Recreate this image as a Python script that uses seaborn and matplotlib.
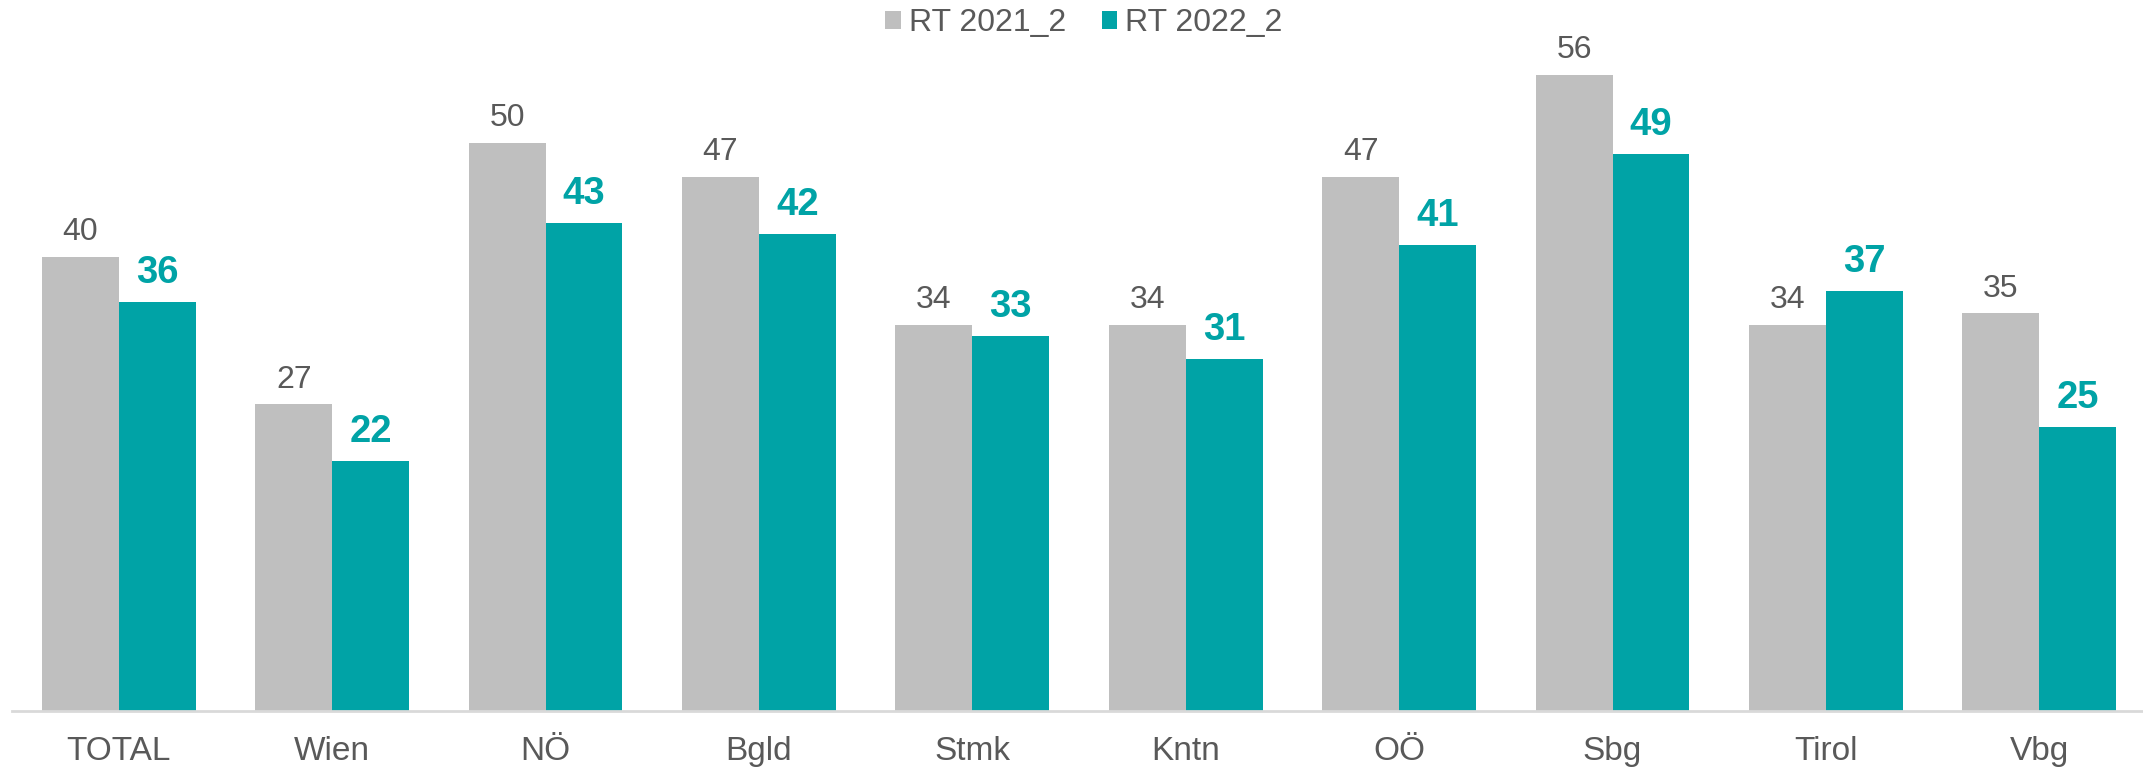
import matplotlib
matplotlib.use("Agg")
import matplotlib.pyplot as plt
import seaborn as sns
import pandas as pd
from matplotlib.patches import Patch

categories = ["TOTAL", "Wien", "NÖ", "Bgld", "Stmk", "Kntn", "OÖ", "Sbg", "Tirol", "Vbg"]
series_names = ["RT 2021_2", "RT 2022_2"]
rt2021 = [40, 27, 50, 47, 34, 34, 47, 56, 34, 35]
rt2022 = [36, 22, 43, 42, 33, 31, 41, 49, 37, 25]

GRAY = "#BFBFBF"
TEAL = "#00A3A6"
TXT = "#595959"

df = pd.DataFrame({
    "cat": categories * 2,
    "series": [series_names[0]] * len(categories) + [series_names[1]] * len(categories),
    "value": rt2021 + rt2022,
})

sns.set_theme(style="white")
plt.rcParams["font.family"] = ["Liberation Sans", "DejaVu Sans"]

fig = plt.figure(figsize=(21.43, 7.70), dpi=100)
ax = fig.add_axes([12 / 2143, 59 / 770, 2134 / 2143, 711 / 770])

sns.barplot(data=df, x="cat", y="value", hue="series", order=categories,
            hue_order=series_names, palette=[GRAY, TEAL], width=0.72,
            saturation=1, legend=False, ax=ax, errorbar=None, linewidth=0)

ax.set_ylim(0, 62.6)
ax.set_xlim(-0.5, len(categories) - 0.5)
ax.set_xlabel("")
ax.set_ylabel("")
ax.set_yticks([])
for s in ["top", "right", "left"]:
    ax.spines[s].set_visible(False)
ax.spines["bottom"].set_color("#D9D9D9")
ax.spines["bottom"].set_linewidth(2)
ax.tick_params(axis="x", length=0, pad=18, labelsize=24, labelcolor=TXT)

c0, c1 = ax.containers[0], ax.containers[1]
ax.bar_label(c0, labels=[str(v) for v in rt2021], padding=7, fontsize=23, color=TXT)
ax.bar_label(c1, labels=[str(v) for v in rt2022], padding=8, fontsize=27.5,
             color=TEAL, fontweight="bold")

handles = [Patch(facecolor=GRAY, edgecolor="none"), Patch(facecolor=TEAL, edgecolor="none")]
fig.legend(handles, series_names, loc="center", bbox_to_anchor=(1084 / 2143, 1 - 23 / 770),
           ncol=2, frameon=False, fontsize=23, labelcolor=TXT,
           handlelength=0.5, handleheight=0.5, handletextpad=0.25, columnspacing=1.1,
           borderpad=0)

fig.savefig("out.png", dpi=100)
